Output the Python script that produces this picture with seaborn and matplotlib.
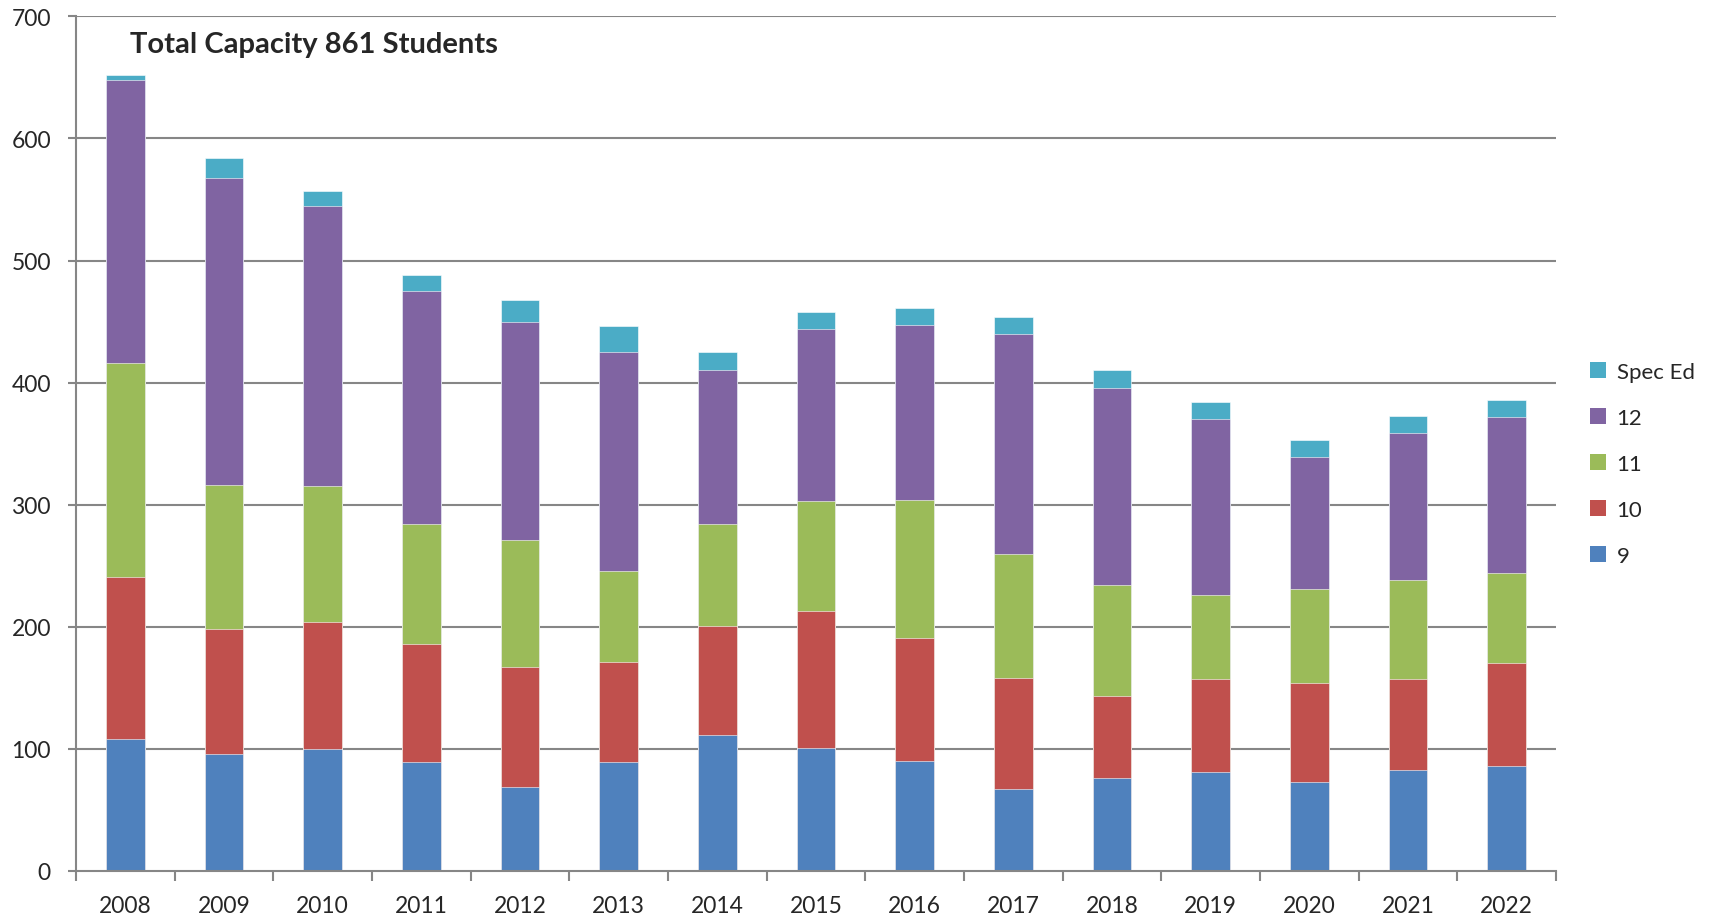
import matplotlib
matplotlib.use("Agg")
import matplotlib.pyplot as plt
import seaborn as sns
import pandas as pd
import numpy as np
from matplotlib.patches import Patch

years = ["2008", "2009", "2010", "2011", "2012", "2013", "2014", "2015",
         "2016", "2017", "2018", "2019", "2020", "2021", "2022"]
grade9 = [108, 96, 100, 89, 69, 89, 111, 101, 90, 67, 76, 81, 73, 83, 86]
grade10 = [133, 102, 104, 97, 98, 82, 90, 112, 101, 91, 67, 76, 81, 74, 84]
grade11 = [175, 118, 111, 98, 104, 75, 83, 90, 113, 102, 91, 69, 77, 81, 74]
grade12 = [232, 252, 230, 191, 179, 179, 126, 141, 143, 180, 162, 144, 108, 121, 128]
spec_ed = [4, 16, 12, 13, 18, 21, 15, 14, 14, 14, 14, 14, 14, 14, 14]

series_names = ["9", "10", "11", "12", "Spec Ed"]
colors = ["#4F81BD", "#C0504D", "#9BBB59", "#8064A2", "#4BACC6"]
title_text = "Total Capacity 861 Students"
y_ticks = [0, 100, 200, 300, 400, 500, 600, 700]

sns.set_theme(style="white")
plt.rcParams["font.family"] = ["Lato", "DejaVu Sans"]

df = pd.DataFrame({"year": years, "9": grade9, "10": grade10, "11": grade11,
                   "12": grade12, "Spec Ed": spec_ed})
cum = df[series_names].cumsum(axis=1)
cum["year"] = df["year"]

fig = plt.figure(figsize=(17.09, 9.2), dpi=100)
ax = fig.add_axes([76 / 1709, 1 - 872 / 920, (1556 - 76) / 1709, (872 - 17.4) / 920])

grid_c = "#868686"
for ytk in y_ticks[1:]:
    ax.axhline(ytk, color=grid_c, lw=1.5, zorder=0)

for name, col in reversed(list(zip(series_names, colors))):
    sns.barplot(data=cum, x="year", y=name, color=col, width=0.39,
                saturation=1, ax=ax, zorder=2, edgecolor="white", linewidth=0.4)

ax.set_ylim(0, 700)
ax.set_xlim(-0.5, len(years) - 0.5)
ax.set_yticks(y_ticks)
ax.set_yticklabels([str(v) for v in y_ticks])
ax.set_xlabel("")
ax.set_ylabel("")

for s in ["top", "right"]:
    ax.spines[s].set_visible(False)
for s in ["left", "bottom"]:
    ax.spines[s].set_color(grid_c)
    ax.spines[s].set_linewidth(1.5)

ax.tick_params(axis="y", which="major", direction="out", length=6, width=1.5,
               color=grid_c, labelsize=16.5, pad=12, left=True)
ax.tick_params(axis="x", which="major", length=0, labelsize=16.5, pad=17)
ax.set_xticks(np.arange(-0.5, len(years), 1.0), minor=True)
ax.tick_params(axis="x", which="minor", direction="out", length=7, width=1.5,
               color=grid_c, bottom=True)

ax.text(0.0365, 0.968, title_text, transform=ax.transAxes, fontsize=21,
        fontweight="bold", va="center", ha="left")

handles = [Patch(facecolor=c, edgecolor="none", label=n)
           for n, c in zip(series_names, colors)][::-1]
fig.legend(handles=handles, loc="upper left", bbox_to_anchor=(1590 / 1709, 1 - 363 / 920),
           frameon=False, fontsize=16, handlelength=0.7, handleheight=0.7,
           handletextpad=0.5, labelspacing=1.17, borderaxespad=0, borderpad=0)

fig.savefig("out.png", dpi=100)
